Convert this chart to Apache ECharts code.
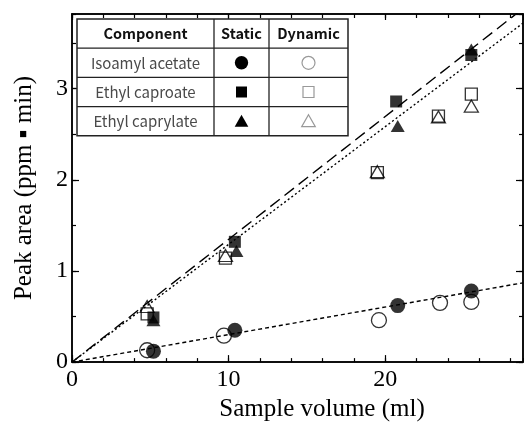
<!DOCTYPE html>
<html>
<head>
<meta charset="utf-8">
<script src="https://cdn.jsdelivr.net/npm/echarts@6/dist/echarts.min.js"></script>
<style>html,body{margin:0;padding:0;background:#fff}#c{width:524px;height:427px}</style>
</head>
<body>
<div id="c"></div>
<script>
// ---- data ----
const xMax = 28.8, yMax = 3.82;
const isoStaticX = [5.2, 10.4, 20.8, 25.5];
const isoStaticY = [0.12, 0.35, 0.62, 0.78];
const isoDynX = [4.8, 9.7, 19.6, 23.5, 25.5];
const isoDynY = [0.13, 0.29, 0.46, 0.65, 0.66];
const capStaticX = [5.2, 10.4, 20.7, 25.5];
const capStaticY = [0.49, 1.32, 2.86, 3.37];
const capDynX = [4.8, 9.8, 19.5, 23.4, 25.5];
const capDynY = [0.53, 1.14, 2.08, 2.70, 2.94];
const caprStaticX = [5.2, 10.5, 20.8, 25.5];
const caprStaticY = [0.46, 1.22, 2.59, 3.43];
const caprDynX = [4.8, 9.8, 19.5, 23.4, 25.5];
const caprDynY = [0.61, 1.17, 2.09, 2.69, 2.81];
const fitLongDash = [[0, 0], [28.8, 3.88]];
const fitDotted = [[0, 0], [28.8, 3.72]];
const fitShortDash = [[0, 0], [28.8, 0.87]];
const xTickLabels = ['0', '10', '20'];
const yTickLabels = ['0', '1', '2', '3'];
const headers = ['Component', 'Static', 'Dynamic'];
const components = ['Isoamyl acetate', 'Ethyl caproate', 'Ethyl caprylate'];
const xName = 'Sample volume (ml)';
const yName = 'Peak area (ppm \u25AA min)';

const pairs = (xs, ys) => xs.map((x, i) => [x, ys[i]]);
const serif = '"Liberation Serif","Times New Roman",serif';
const sans = '"Noto Sans CJK JP","Noto Sans",sans-serif';

function axis(kind, pos, interval, len, opts) {
  const isX = kind === 'x';
  return Object.assign({
    type: 'value', position: pos, min: 0, max: isX ? xMax : yMax, interval: interval,
    axisLine: { show: true, onZero: false, lineStyle: { color: '#000', width: 1.5 } },
    axisTick: { show: true, inside: true, length: len, lineStyle: { color: '#000', width: 1.2 } },
    axisLabel: { show: false },
    splitLine: { show: false }
  }, opts || {});
}

const labelStyle = (arr) => ({
  show: true, fontFamily: serif, fontSize: 24, color: '#000',
  showMaxLabel: false,
  formatter: v => (arr.indexOf(String(v)) >= 0 ? String(v) : '')
});

const chart = echarts.init(document.getElementById('c'), null, { renderer: 'canvas' });

const headerY = 19, rowH = 29.2, colX = [77, 214, 269, 348];
const g = [];
g.push({ type: 'rect', shape: { x: colX[0], y: headerY, width: colX[3] - colX[0], height: rowH * 4 },
  style: { fill: '#fff', stroke: '#222', lineWidth: 1.5 }, z: 100 });
for (let i = 1; i < 4; i++) g.push({ type: 'line', shape: { x1: colX[0], y1: headerY + rowH * i, x2: colX[3], y2: headerY + rowH * i }, style: { stroke: '#222', lineWidth: 1.3 }, z: 101 });
for (let j = 1; j < 3; j++) g.push({ type: 'line', shape: { x1: colX[j], y1: headerY, x2: colX[j], y2: headerY + rowH * 4 }, style: { stroke: '#222', lineWidth: 1.3 }, z: 101 });
headers.forEach((h, j) => g.push({ type: 'text', x: (colX[j] + colX[j + 1]) / 2, y: headerY + rowH / 2, z: 102,
  style: { text: h, font: 'bold 14.5px ' + sans, fill: '#111', align: 'center', verticalAlign: 'middle' } }));
components.forEach((c, i) => {
  const cy = headerY + rowH * (i + 1) + rowH / 2;
  g.push({ type: 'text', x: (colX[0] + colX[1]) / 2, y: cy, z: 102,
    style: { text: c, font: '15px ' + sans, fill: '#4a4a4a', align: 'center', verticalAlign: 'middle' } });
  const sx = (colX[1] + colX[2]) / 2, dx = (colX[2] + colX[3]) / 2;
  const filled = { fill: '#000' }, open = { fill: '#fff', stroke: '#999', lineWidth: 1.2 };
  if (i === 0) {
    g.push({ type: 'circle', shape: { cx: sx, cy: cy, r: 6.7 }, style: filled, z: 102 });
    g.push({ type: 'circle', shape: { cx: dx, cy: cy, r: 6.5 }, style: open, z: 102 });
  } else if (i === 1) {
    g.push({ type: 'rect', shape: { x: sx - 5.5, y: cy - 5.5, width: 11, height: 11 }, style: filled, z: 102 });
    g.push({ type: 'rect', shape: { x: dx - 5.5, y: cy - 5.5, width: 11, height: 11 }, style: open, z: 102 });
  } else {
    g.push({ type: 'polygon', shape: { points: [[sx, cy - 6.5], [sx + 6.8, cy + 5.5], [sx - 6.8, cy + 5.5]] }, style: filled, z: 102 });
    g.push({ type: 'polygon', shape: { points: [[dx, cy - 6.5], [dx + 6.8, cy + 5.5], [dx - 6.8, cy + 5.5]] }, style: open, z: 102 });
  }
});

const openStyle = { color: 'rgba(255,255,255,0)', borderColor: '#000', borderWidth: 1.3 };
const fillStyle = { color: '#000' };
const lineSeries = (data, dash) => ({ type: 'line', data: data, symbol: 'none', silent: true, clip: true,
  lineStyle: { color: '#000', width: 1.4, type: dash }, z: 1 });

chart.setOption({
  animation: false,
  backgroundColor: '#fff',
  grid: { left: 72, right: 1, top: 14, bottom: 63 },
  xAxis: [
    axis('x', 'bottom', 10, 7, { axisLabel: Object.assign(labelStyle(xTickLabels), { margin: 6 }),
      name: xName, nameLocation: 'middle', nameGap: 33,
      nameTextStyle: { fontFamily: serif, fontSize: 25, color: '#000', padding: [0, 0, 0, 49] } }),
    axis('x', 'bottom', 2, 4),
    axis('x', 'top', 10, 6),
    axis('x', 'top', 2, 4)
  ],
  yAxis: [
    axis('y', 'left', 1, 7, { axisLabel: Object.assign(labelStyle(yTickLabels), { margin: 4 }),
      name: yName, nameLocation: 'middle', nameGap: 35, nameRotate: 90,
      nameTextStyle: { fontFamily: serif, fontSize: 25, color: '#000' } }),
    axis('y', 'left', 0.5, 4),
    axis('y', 'right', 1, 7),
    axis('y', 'right', 0.5, 4)
  ],
  series: [
    lineSeries(fitLongDash, [12, 6]),
    lineSeries(fitDotted, [2, 2.5]),
    lineSeries(fitShortDash, [4, 3]),
    { type: 'scatter', data: pairs(isoDynX, isoDynY), symbol: 'circle', symbolSize: 15, itemStyle: openStyle, z: 3 },
    { type: 'scatter', data: pairs(capDynX, capDynY), symbol: 'rect', symbolSize: 12, itemStyle: openStyle, z: 3 },
    { type: 'scatter', data: pairs(caprDynX, caprDynY), symbol: 'triangle', symbolSize: [14, 12], itemStyle: openStyle, z: 3 },
    { type: 'scatter', data: pairs(isoStaticX, isoStaticY), symbol: 'circle', symbolSize: 15, itemStyle: fillStyle, z: 4 },
    { type: 'scatter', data: pairs(capStaticX, capStaticY), symbol: 'rect', symbolSize: 12, itemStyle: fillStyle, z: 4 },
    { type: 'scatter', data: pairs(caprStaticX, caprStaticY), symbol: 'triangle', symbolSize: [14, 12], itemStyle: fillStyle, z: 4 }
  ],
  graphic: g
});
</script>
</body>
</html>
